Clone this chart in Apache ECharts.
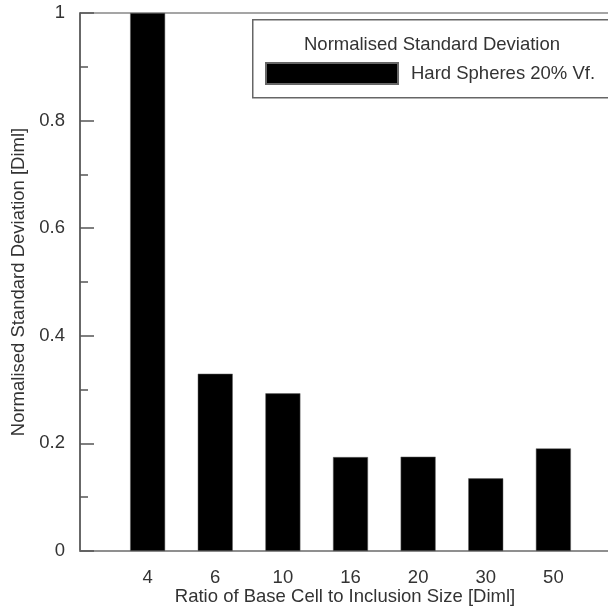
<!DOCTYPE html>
<html>
<head>
<meta charset="utf-8">
<script src="https://cdn.jsdelivr.net/npm/echarts@6/dist/echarts.min.js"></script>
<style>html,body{margin:0;padding:0;background:#fff}#c{width:608px;height:609px}</style>
</head>
<body>
<div id="c"></div>
<script>
const categories = ['4', '6', '10', '16', '20', '30', '50'];
const values = [1.0, 0.3295, 0.293, 0.1746, 0.1753, 0.135, 0.1907];
const yTicks = [0, 0.2, 0.4, 0.6, 0.8, 1];
const seriesName = 'Hard Spheres 20% Vf.';
const legendTitle = 'Normalised Standard Deviation';
const xName = 'Ratio of Base Cell to Inclusion Size [Diml]';
const yName = 'Normalised Standard Deviation [Diml]';

// pad one empty slot on each side so bars sit at category positions 1..7
const xCats = [''].concat(categories, ['']);
const yData = [null].concat(values, [null]);

const font = 'Liberation Sans, Arial, sans-serif';
const fs = 18.5;
const chart = echarts.init(document.getElementById('c'), null, {renderer: 'canvas'});
chart.setOption({
  animation: false,
  backgroundColor: '#fff',
  grid: {left: 80, top: 13, width: 541, height: 538, outerBoundsMode: 'none', containLabel: false,
         show: true, borderColor: '#888', borderWidth: 1.5, backgroundColor: 'transparent'},
  xAxis: {
    type: 'category', data: xCats, boundaryGap: false,
    axisLine: {show: true, lineStyle: {color: '#888', width: 1.5}},
    axisTick: {show: false},
    axisLabel: {color: '#333', fontSize: fs, fontFamily: font, margin: 17, interval: 0},
    splitLine: {show: false}
  },
  yAxis: {
    type: 'value', min: 0, max: 1, interval: 0.2,
    name: yName, nameLocation: 'middle', nameGap: 51,
    nameTextStyle: {color: '#333', fontSize: fs, fontFamily: font},
    axisLine: {show: true, lineStyle: {color: '#555', width: 1.5}},
    axisTick: {show: true, inside: true, length: 14, lineStyle: {color: '#555', width: 1.5}},
    minorTick: {show: true, splitNumber: 2, length: 8, lineStyle: {color: '#555', width: 1.5}},
    axisLabel: {color: '#333', fontSize: fs, fontFamily: font, margin: 15,
      formatter: v => { const t = yTicks.find(x => Math.abs(x - v) < 1e-9); return t === undefined ? '' : String(t); }},
    splitLine: {show: false}
  },
  legend: {
    show: true, left: 260, top: 57, itemWidth: 132, itemHeight: 21, icon: 'rect',
    data: [seriesName],
    textStyle: {color: '#333', fontSize: fs, fontFamily: font, padding: [0, 0, 0, 8]}
  },
  series: [{
    name: seriesName, type: 'bar', data: yData, barWidth: 35,
    itemStyle: {color: '#000', borderColor: '#666', borderWidth: 0.5}
  }],
  graphic: [
    {type: 'rect', left: 252, top: 19, z: -1, shape: {width: 500, height: 78},
     style: {fill: '#fff', stroke: '#666', lineWidth: 1.5}},
    {type: 'text', x: 432, y: 45, style: {text: legendTitle, fill: '#333', font: fs + 'px ' + font, align: 'center', verticalAlign: 'middle'}},
    {type: 'text', x: 345, y: 597, style: {text: xName, fill: '#333', font: fs + 'px ' + font, align: 'center', verticalAlign: 'middle'}}
  ]
});
</script>
</body>
</html>
